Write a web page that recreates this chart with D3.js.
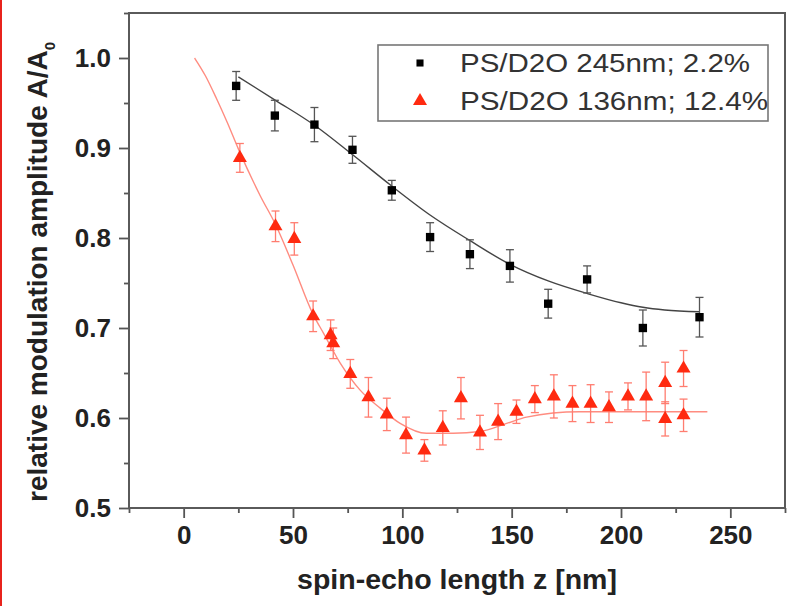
<!DOCTYPE html>
<html lang="en">

<head>
    <meta charset="utf-8">
    <title>Spin-echo modulation amplitude</title>
    <style>
        body { margin: 0; background: #fff; }
        svg { display: block; font-family: "Liberation Sans", Arial, sans-serif; }
    </style>
</head>

<body>
    <script type="text/javascript" src="https://cdn.jsdelivr.net/npm/d3@7/dist/d3.min.js"></script>
    <script type="text/javascript">
        // PS/D2O 245nm; 2.2% (black squares)
        var blackX = [24.0, 41.7, 59.8, 77.2, 95.2, 112.7, 130.9, 149.2, 166.7, 184.5, 210.0, 235.9];
        var blackY = [0.969, 0.936, 0.926, 0.898, 0.853, 0.801, 0.782, 0.769, 0.727, 0.754, 0.700, 0.712];
        var blackErr = [0.016, 0.017, 0.019, 0.015, 0.011, 0.016, 0.016, 0.018, 0.016, 0.015, 0.020, 0.022];
        // PS/D2O 136nm; 12.4% (red triangles)
        var redX = [25.7, 42.0, 50.6, 59.2, 67.2, 68.4, 76.2, 84.5, 92.9, 101.7, 110.1, 118.5, 126.8, 135.5,
            143.8, 152.2, 160.6, 169.3, 177.8, 186.1, 194.5, 203.2, 211.5, 220.2, 220.2, 228.6, 228.6];
        var redY = [0.889, 0.813, 0.799, 0.713, 0.692, 0.683, 0.649, 0.623, 0.604, 0.581, 0.564, 0.589, 0.622, 0.584,
            0.596, 0.607, 0.621, 0.624, 0.616, 0.616, 0.612, 0.624, 0.624, 0.639, 0.599, 0.655, 0.603];
        var redErr = [0.016, 0.017, 0.018, 0.017, 0.017, 0.017, 0.016, 0.022, 0.018, 0.020, 0.012, 0.019, 0.023, 0.019,
            0.020, 0.013, 0.015, 0.024, 0.020, 0.021, 0.017, 0.015, 0.027, 0.023, 0.019, 0.020, 0.018];
        // fit curves
        var blackFitX = [25, 42, 60, 77, 95, 113, 131, 149, 167, 185, 200, 210, 220, 236];
        var blackFitY = [0.979, 0.953, 0.925, 0.893, 0.858, 0.825, 0.797, 0.771, 0.752, 0.738, 0.728, 0.723, 0.720, 0.718];
        var redFitX = [5, 10, 15, 20, 25, 35, 42, 50, 59, 64, 71.6, 80.7, 89.9, 99, 111, 123.3, 135.5, 147.7, 156.8, 181, 239.5];
        var redFitY = [1.0, 0.98, 0.955, 0.928, 0.899, 0.847, 0.815, 0.77, 0.716, 0.694, 0.661, 0.631, 0.611, 0.594,
            0.583, 0.583, 0.585, 0.594, 0.601, 0.607, 0.607];
        // axes
        var xTicks = [0, 50, 100, 150, 200, 250];
        var xMinor = [-25, 25, 75, 125, 175, 225, 275];
        var yTicks = [0.5, 0.6, 0.7, 0.8, 0.9, 1.0];
        var yMinor = [0.55, 0.65, 0.75, 0.85, 0.95, 1.05];
        var legendLabels = ["PS/D2O 245nm; 2.2%", "PS/D2O 136nm; 12.4%"];

        //define the boundaries
        var w = 796;
        var h = 606;
        var plotL = 129, plotR = 785, plotT = 13, plotB = 508;

        //create scales
        var xScale = d3.scaleLinear().domain([-25, 275]).range([plotL, plotR]);
        var yScale = d3.scaleLinear().domain([0.5, 1.05]).range([plotB, plotT]);

        var svg = d3.select("body").append("svg")
            .attr("width", w)
            .attr("height", h);

        // red strip on the left edge of the picture
        svg.append("rect").attr("x", 0).attr("y", 0).attr("width", 2).attr("height", h).attr("fill", "#e8231c");

        //axes, ticks outward
        var xAxis = d3.axisBottom(xScale).tickValues(xTicks).tickSize(10).tickSizeOuter(0).tickPadding(8)
            .tickFormat(d3.format("d"));
        var yAxis = d3.axisLeft(yScale).tickValues(yTicks).tickSize(10).tickSizeOuter(0).tickPadding(8)
            .tickFormat(d3.format(".1f"));
        svg.append("g").attr("transform", "translate(0," + plotB + ")").call(xAxis);
        svg.append("g").attr("transform", "translate(" + plotL + ",0)").call(yAxis);
        svg.append("g").attr("transform", "translate(0," + plotB + ")")
            .call(d3.axisBottom(xScale).tickValues(xMinor).tickSize(5).tickFormat(""));
        svg.append("g").attr("transform", "translate(" + plotL + ",0)")
            .call(d3.axisLeft(yScale).tickValues(yMinor).tickSize(5).tickFormat(""));
        svg.selectAll(".domain").remove();
        svg.selectAll(".tick line").attr("stroke", "#555").attr("stroke-width", 1.8);
        svg.selectAll(".tick text").attr("font-size", 26).attr("font-weight", "bold").attr("fill", "#222")
            .attr("font-family", "'Liberation Sans', Arial, sans-serif");

        //frame
        svg.append("rect")
            .attr("x", plotL).attr("y", plotT)
            .attr("width", plotR - plotL).attr("height", plotB - plotT)
            .attr("fill", "none").attr("stroke", "#5a5a5a").attr("stroke-width", 2);

        //axis titles
        svg.append("text")
            .attr("x", 457).attr("y", 589)
            .attr("text-anchor", "middle")
            .attr("font-size", 28.5).attr("font-weight", "bold").attr("fill", "#222")
            .text("spin-echo length z [nm]");
        var yt = svg.append("text")
            .attr("transform", "translate(47,272) rotate(-90)")
            .attr("text-anchor", "middle")
            .attr("font-size", 28).attr("font-weight", "bold").attr("fill", "#222");
        yt.append("tspan").text("relative modulation amplitude A/A");
        yt.append("tspan").attr("font-size", 15).attr("dy", 8).text("0");

        //fit lines
        var line = d3.line().x(function(d) { return xScale(d[0]); }).y(function(d) { return yScale(d[1]); })
            .curve(d3.curveMonotoneX);
        svg.append("path").datum(d3.zip(redFitX, redFitY)).attr("d", line)
            .attr("fill", "none").attr("stroke", "#ff8c80").attr("stroke-width", 1.4);
        svg.append("path").datum(d3.zip(blackFitX, blackFitY)).attr("d", line)
            .attr("fill", "none").attr("stroke", "#444").attr("stroke-width", 1.4);

        //error bars
        function errorBars(xs, ys, es, color) {
            var g = svg.append("g").attr("stroke", color).attr("stroke-width", 1.3).attr("fill", "none");
            xs.forEach(function(x, i) {
                var cx = xScale(x), y0 = yScale(ys[i] - es[i]), y1 = yScale(ys[i] + es[i]);
                g.append("line").attr("x1", cx).attr("x2", cx).attr("y1", y0).attr("y2", y1);
                g.append("line").attr("x1", cx - 4).attr("x2", cx + 4).attr("y1", y0).attr("y2", y0);
                g.append("line").attr("x1", cx - 4).attr("x2", cx + 4).attr("y1", y1).attr("y2", y1);
            });
        }
        errorBars(redX, redY, redErr, "#ff7d70");
        errorBars(blackX, blackY, blackErr, "#555");

        //markers
        var tri = d3.symbol().type(d3.symbolTriangle).size(85);
        var sq = d3.symbol().type(d3.symbolSquare).size(70);
        svg.append("g").selectAll("path").data(d3.zip(redX, redY)).enter().append("path")
            .attr("d", tri)
            .attr("transform", function(d) { return "translate(" + xScale(d[0]) + "," + yScale(d[1]) + ")"; })
            .attr("fill", "#ff2a10");
        svg.append("g").selectAll("path").data(d3.zip(blackX, blackY)).enter().append("path")
            .attr("d", sq)
            .attr("transform", function(d) { return "translate(" + xScale(d[0]) + "," + yScale(d[1]) + ")"; })
            .attr("fill", "#000");

        //legend
        var lg = svg.append("g");
        lg.append("rect").attr("x", 378).attr("y", 45).attr("width", 390).attr("height", 76)
            .attr("fill", "#fff").attr("stroke", "#777").attr("stroke-width", 1.6);
        lg.append("path").attr("d", d3.symbol().type(d3.symbolSquare).size(50))
            .attr("transform", "translate(420,63)").attr("fill", "#000");
        lg.append("path").attr("d", d3.symbol().type(d3.symbolTriangle).size(85))
            .attr("transform", "translate(420,101)").attr("fill", "#ff2a10");
        lg.selectAll("text.lbl").data(legendLabels).enter().append("text")
            .attr("class", "lbl")
            .attr("x", 460)
            .attr("y", function(d, i) { return 72 + i * 38; })
            .attr("font-size", 26).attr("fill", "#333")
            .attr("textLength", function(d, i) { return i == 0 ? 290 : 308; })
            .attr("lengthAdjust", "spacingAndGlyphs")
            .text(function(d) { return d; });
    </script>
</body>

</html>
